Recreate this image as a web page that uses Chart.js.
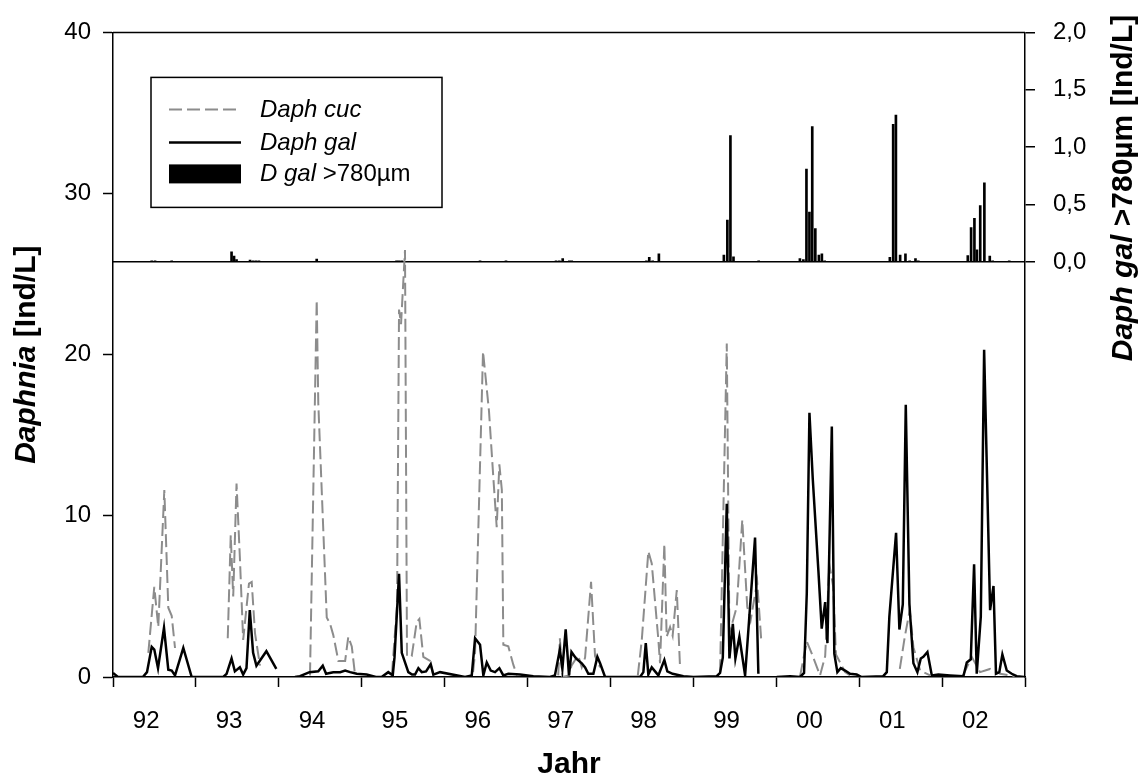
<!DOCTYPE html>
<html>
<head>
<meta charset="utf-8">
<script src="https://cdn.jsdelivr.net/npm/chart.js@4.4.1/dist/chart.umd.min.js"></script>
<style>
  html, body { margin: 0; padding: 0; background: #fff; }
</style>
</head>
<body>
<canvas id="daphniaChart" width="1141" height="780"></canvas>
<script>
// sampling dates as decimal years, null value = no samples (gap in line)
const galYears = [
  1992.00, 1992.06, 1992.36, 1992.41, 1992.467, 1992.498, 1992.543, 1992.615, 1992.667, 1992.708,
  1992.748, 1992.848, 1992.949, 1993.33, 1993.37, 1993.43, 1993.47, 1993.53, 1993.57, 1993.61,
  1993.65, 1993.69, 1993.73, 1993.85, 1993.97, 1994.08, 1994.195, 1994.255, 1994.37, 1994.476,
  1994.53, 1994.57, 1994.657, 1994.74, 1994.80, 1994.86, 1994.94, 1995.06, 1995.17, 1995.24,
  1995.32, 1995.374, 1995.395, 1995.45, 1995.483, 1995.562, 1995.607, 1995.643, 1995.683, 1995.724,
  1995.776, 1995.832, 1995.864, 1995.945, 1996.246, 1996.327, 1996.367, 1996.427, 1996.467, 1996.508,
  1996.556, 1996.608, 1996.66, 1996.708, 1996.768, 1996.91, 1997.07, 1997.27, 1997.33, 1997.39,
  1997.42, 1997.46, 1997.50, 1997.53, 1997.585, 1997.654, 1997.694, 1997.733, 1997.794, 1997.842,
  1997.875, 1997.935, 1998.357, 1998.397, 1998.426, 1998.457, 1998.498, 1998.578, 1998.65, 1998.686,
  1998.75, 1998.88, 1999.00, 1999.282, 1999.322, 1999.355, 1999.403, 1999.435, 1999.476, 1999.507,
  1999.555, 1999.624, 1999.744, 1999.784, 1999.90, 2000.006, 2000.167, 2000.287, 2000.335, 2000.368,
  2000.40, 2000.44, 2000.508, 2000.548, 2000.59, 2000.617, 2000.67, 2000.70, 2000.737, 2000.778,
  2000.83, 2000.89, 2000.97, 2001.03, 2001.29, 2001.333, 2001.364, 2001.445, 2001.485, 2001.526,
  2001.562, 2001.606, 2001.654, 2001.702, 2001.743, 2001.774, 2001.823, 2001.876, 2001.955, 2002.097,
  2002.257, 2002.298, 2002.346, 2002.386, 2002.418, 2002.467, 2002.507, 2002.579, 2002.62, 2002.65,
  2002.69, 2002.727, 2002.78, 2002.84, 2002.90, 2002.99
];
const galValues = [
  0.25, 0, 0, 0.3, 1.87, 1.7, 0.55, 3.05, 0.45, 0.4,
  0.1, 1.8, 0, 0, 0.2, 1.15, 0.35, 0.6, 0.15, 0.55,
  4.15, 1.5, 0.7, 1.6, 0.5, null, 0, 0.05, 0.3, 0.35,
  0.7, 0.2, 0.3, 0.3, 0.4, 0.3, 0.2, 0.15, 0, 0,
  0.3, 0.1, 1.2, 6.4, 1.5, 0.3, 0.15, 0.15, 0.55, 0.3,
  0.35, 0.8, 0.15, 0.3, 0, 0.1, 2.4, 2.0, 0.1, 0.9,
  0.4, 0.3, 0.55, 0.1, 0.2, 0.15, 0.05, 0, 0.1, 1.7,
  0.5, 2.95, 0.1, 1.55, 1.15, 0.85, 0.6, 0.2, 0.2, 1.25,
  0.85, 0, 0, 0.3, 2.1, 0.15, 0.6, 0.1, 1.05, 0.35,
  0.2, 0.05, 0, 0.05, 0.25, 1.2, 10.75, 1.15, 3.3, 1.15,
  2.5, 0.1, 8.65, 0.2, null, 0, 0.05, 0, 0.25, 5.2,
  16.4, 12.3, 6.6, 3.0, 4.65, 2.1, 15.55, 1.45, 0.3, 0.55,
  0.4, 0.2, 0.15, 0, 0.05, 0.3, 3.75, 8.95, 2.95, 4.5,
  16.9, 4.5, 0.85, 0.3, 1.15, 1.25, 1.55, 0.1, 0.15, 0.1,
  0.05, 0.9, 1.1, 7.0, 0.2, 3.75, 20.3, 4.15, 5.65, 0.2,
  0.3, 1.4, 0.4, 0.2, 0.05, 0
];

const cucYears = [
  1992.426, 1992.498, 1992.546, 1992.619, 1992.667, 1992.708, 1992.748, 1993.0,
  1993.384, 1993.42, 1993.45, 1993.49, 1993.53, 1993.57, 1993.64, 1993.673, 1993.713, 1993.773, 1994.0,
  1994.376, 1994.457, 1994.476, 1994.578, 1994.618, 1994.657, 1994.718, 1994.80, 1994.838, 1994.88, 1994.92, 1995.0,
  1995.365, 1995.426, 1995.45, 1995.474, 1995.522, 1995.546, 1995.603, 1995.663, 1995.695, 1995.743, 1995.824, 1995.864, 1996.0,
  1996.343, 1996.367, 1996.463, 1996.535, 1996.587, 1996.628, 1996.66, 1996.69, 1996.708, 1996.768, 1996.829, 1996.873, 1997.0,
  1997.37, 1997.39, 1997.42, 1997.50, 1997.53, 1997.61, 1997.654, 1997.694, 1997.766, 1997.814, 1997.875, 1998.0,
  1998.33, 1998.378, 1998.457, 1998.498, 1998.578, 1998.598, 1998.65, 1998.678, 1998.719, 1998.75, 1998.80, 1998.84, 1999.0,
  1999.322, 1999.403, 1999.435, 1999.523, 1999.59, 1999.65, 1999.69, 1999.77, 1999.817, 2000.0,
  2000.287, 2000.368, 2000.432, 2000.528, 2000.59, 2000.64, 2000.687, 2000.72, 2000.83, 2000.89, 2001.0,
  2001.49, 2001.55, 2001.61, 2001.654, 2001.735, 2001.855, 2002.0,
  2002.253, 2002.358, 2002.458, 2002.579, 2002.70, 2002.88
];
const cucValues = [
  1.5, 5.6, 3.1, 11.6, 4.3, 3.8, 1.8, null,
  2.4, 8.8, 5.0, 12.0, 7.45, 2.3, 5.8, 5.9, 2.7, 0.7, null,
  0.1, 23.4, 17.0, 3.7, 3.3, 2.6, 1.0, 1.0, 2.5, 1.9, 0.1, null,
  0.2, 4.5, 22.8, 21.9, 26.5, 1.3, 1.3, 3.4, 3.6, 1.25, 1.0, 0.1, null,
  0.3, 1.5, 20.2, 16.5, 12.4, 9.3, 13.2, 11.6, 2.0, 1.9, 0.75, 0.1, null,
  0.1, 2.4, 0, 0.1, 0.7, 1.35, 0.6, 1.2, 5.9, 1.3, 0.6, null,
  0.1, 2.3, 7.8, 7.05, 2.3, 0.85, 8.25, 2.5, 3.1, 2.55, 5.4, 0.5, null,
  0.3, 20.7, 2.7, 4.35, 9.75, 4.35, 3.5, 5.9, 2.4, null,
  0.05, 2.2, 1.4, 0.1, 1.3, 7.0, 5.6, 1.4, 0.3, 0.1, null,
  0.5, 2.5, 4.15, 1.85, 0.4, 0.1, null,
  0.1, 1.25, 0.3, 0.5, 0.2, 0.05
];

// D. galeata larger than 780 µm (right axis)
const bigYears = [
  1992.467, 1992.507, 1992.708, 1993.43, 1993.46, 1993.49, 1993.653, 1993.69, 1993.725, 1993.76,
  1994.457, 1995.42, 1995.45, 1995.483, 1996.427, 1996.74, 1997.344, 1997.384, 1997.424, 1997.504,
  1997.533, 1998.434, 1998.468, 1998.509, 1998.584, 1999.368, 1999.41, 1999.447, 1999.484, 1999.788,
  2000.285, 2000.327, 2000.364, 2000.40, 2000.434, 2000.471, 2000.514, 2000.55, 2000.584, 2001.37,
  2001.41, 2001.443, 2001.494, 2001.558, 2001.609, 2001.679, 2001.713, 2002.31, 2002.35, 2002.39,
  2002.42, 2002.46, 2002.51, 2002.575, 2002.61, 2002.81
];
const bigValues = [
  0.01, 0.01, 0.01, 0.087, 0.05, 0.02, 0.015, 0.01, 0.01, 0.01,
  0.025, 0.01, 0.01, 0.01, 0.01, 0.01, 0.01, 0.01, 0.03, 0.01,
  0.01, 0.01, 0.04, 0.01, 0.07, 0.06, 0.365, 1.10, 0.045, 0.01,
  0.03, 0.02, 0.81, 0.435, 1.18, 0.29, 0.06, 0.07, 0.01, 0.04,
  1.20, 1.28, 0.06, 0.07, 0.01, 0.03, 0.01, 0.055, 0.30, 0.38,
  0.105, 0.49, 0.69, 0.05, 0.01, 0.01
];

const yearLabels = ['92', '93', '94', '95', '96', '97', '98', '99', '00', '01', '02'];
const leftTicks = [0, 10, 20, 30, 40];
const rightTicks = [0, 0.5, 1.0, 1.5, 2.0];

const FONT = "'Liberation Sans', Arial, sans-serif";
Chart.defaults.font.family = FONT;
Chart.defaults.color = '#000';

function toPoints(xs, ys) {
    return xs.map((x, i) => ({ x: x, y: ys[i] }));
}

// draws a string made of differently styled pieces
function drawParts(ctx, parts, x, y, center) {
    let total = 0;
    parts.forEach(p => { ctx.font = p.font; p.w = ctx.measureText(p.text).width; total += p.w; });
    let cx = center ? x - total / 2 : x;
    ctx.textAlign = 'left';
    parts.forEach(p => { ctx.font = p.font; ctx.fillText(p.text, cx, y); cx += p.w; });
}

const decorPlugin = {
    id: 'decor',
    afterDraw(chart) {
        const { ctx, chartArea: a } = chart;
        ctx.save();
        ctx.fillStyle = '#000';
        ctx.strokeStyle = '#000';

        // top frame line
        ctx.lineWidth = 1.5;
        ctx.beginPath();
        ctx.moveTo(a.left, a.top);
        ctx.lineTo(a.right, a.top);
        ctx.stroke();

        // legend box
        const lx = a.left + 38, ly = a.top + 45;
        ctx.fillStyle = '#fff';
        ctx.fillRect(lx, ly, 291, 130);
        ctx.lineWidth = 1.5;
        ctx.strokeStyle = '#000';
        ctx.strokeRect(lx, ly, 291, 130);

        ctx.lineWidth = 2;
        ctx.strokeStyle = '#8c8c8c';
        ctx.setLineDash([13, 5]);
        ctx.beginPath();
        ctx.moveTo(lx + 18, ly + 32);
        ctx.lineTo(lx + 90, ly + 32);
        ctx.stroke();
        ctx.setLineDash([]);

        ctx.lineWidth = 2.5;
        ctx.strokeStyle = '#000';
        ctx.beginPath();
        ctx.moveTo(lx + 18, ly + 65);
        ctx.lineTo(lx + 90, ly + 65);
        ctx.stroke();

        ctx.fillStyle = '#000';
        ctx.fillRect(lx + 18, ly + 87, 72, 19);

        ctx.textBaseline = 'middle';
        const itl = 'italic 24px ' + FONT, reg = '24px ' + FONT;
        drawParts(ctx, [{ text: 'Daph cuc', font: itl }], lx + 109, ly + 33, false);
        drawParts(ctx, [{ text: 'Daph gal', font: itl }], lx + 109, ly + 66, false);
        drawParts(ctx, [{ text: 'D gal', font: itl }, { text: ' >780µm', font: reg }], lx + 109, ly + 97, false);

        // axis titles
        ctx.textBaseline = 'alphabetic';
        const bi = 'italic bold 30px ' + FONT, b = 'bold 30px ' + FONT;
        drawParts(ctx, [{ text: 'Jahr', font: b }], 569, 773, true);

        ctx.save();
        ctx.translate(35, (a.top + a.bottom) / 2);
        ctx.rotate(-Math.PI / 2);
        drawParts(ctx, [{ text: 'Daphnia', font: bi }, { text: ' [Ind/L]', font: b }], 0, 0, true);
        ctx.restore();

        ctx.save();
        ctx.translate(1132, 188);
        ctx.rotate(-Math.PI / 2);
        drawParts(ctx, [{ text: 'Daph gal', font: bi }, { text: ' >780µm [Ind/L]', font: b }], 0, 0, true);
        ctx.restore();

        ctx.restore();
    }
};

const canvas = document.getElementById('daphniaChart');

const chart = new Chart(canvas, {
    type: 'line',
    data: {
        datasets: [
            {
                type: 'line',
                label: 'Daph gal',
                data: toPoints(galYears, galValues),
                borderColor: '#000',
                borderWidth: 2.5,
                pointRadius: 0,
                tension: 0,
                spanGaps: false,
                yAxisID: 'y',
                order: 1
            },
            {
                type: 'line',
                label: 'Daph cuc',
                data: toPoints(cucYears, cucValues),
                borderColor: '#8c8c8c',
                borderWidth: 2,
                borderDash: [13, 5],
                pointRadius: 0,
                tension: 0,
                spanGaps: false,
                yAxisID: 'y',
                order: 2
            },
            {
                type: 'bar',
                label: 'D gal >780µm',
                data: toPoints(bigYears, bigValues),
                backgroundColor: '#000',
                borderWidth: 0,
                barThickness: 2,
                yAxisID: 'y2',
                order: 3
            }
        ]
    },
    options: {
        responsive: false,
        animation: false,
        layout: { padding: { top: 31, left: 0, right: 0, bottom: 0 } },
        plugins: {
            legend: { display: false },
            tooltip: { enabled: false }
        },
        scales: {
            x: {
                type: 'linear',
                position: 'bottom',
                min: 1992,
                max: 2003,
                offset: false,
                afterFit: s => { s.height = 103; },
                afterBuildTicks: s => {
                    const t = [];
                    yearLabels.forEach((lab, i) => {
                        t.push({ value: 1992 + i });
                        t.push({ value: 1992 + i + 0.4 });
                    });
                    t.push({ value: 2003 });
                    s.ticks = t;
                },
                ticks: {
                    autoSkip: false,
                    maxRotation: 0,
                    minRotation: 0,
                    padding: 20,
                    font: { size: 24 },
                    callback: (v, i) => (i % 2 === 1 ? yearLabels[(i - 1) / 2] : '')
                },
                grid: {
                    offset: false,
                    drawOnChartArea: false,
                    tickLength: 10,
                    tickWidth: 1.5,
                    tickColor: c => (c.index % 2 === 0 ? '#000' : 'rgba(0,0,0,0)')
                },
                border: { color: '#000', width: 1.5 }
            },
            y: {
                position: 'left',
                min: 0,
                max: 40,
                afterFit: s => { s.width = 113; },
                afterBuildTicks: s => { s.ticks = leftTicks.map(v => ({ value: v })); },
                ticks: { padding: 12, font: { size: 24 } },
                grid: { drawOnChartArea: false, tickLength: 10, tickWidth: 1.5, tickColor: '#000' },
                border: { color: '#000', width: 1.5 }
            },
            y2: {
                position: 'right',
                min: -3.617,
                max: 2,
                afterFit: s => { s.width = 116; },
                afterBuildTicks: s => { s.ticks = rightTicks.map(v => ({ value: v })); },
                ticks: {
                    padding: 18,
                    font: { size: 24 },
                    callback: v => v.toFixed(1).replace('.', ',')
                },
                grid: {
                    drawOnChartArea: true,
                    color: c => (c.tick && c.tick.value === 0 ? '#000' : 'rgba(0,0,0,0)'),
                    lineWidth: 1.5,
                    tickLength: 10,
                    tickWidth: 1.5,
                    tickColor: '#000'
                },
                border: { color: '#000', width: 1.5 }
            }
        }
    },
    plugins: [decorPlugin]
});
</script>
</body>
</html>
